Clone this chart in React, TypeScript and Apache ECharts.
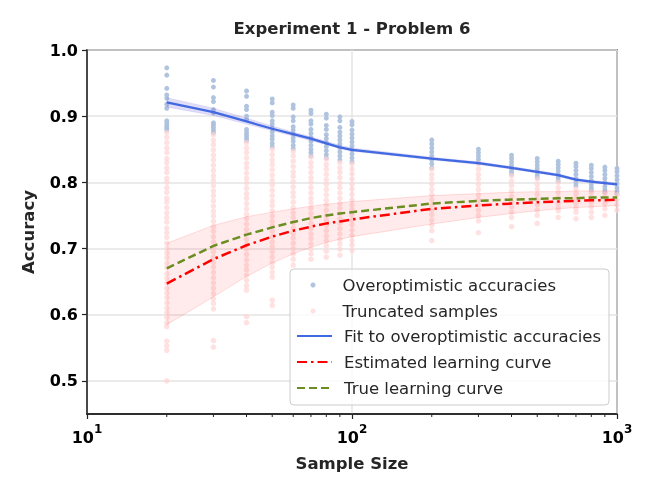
import React, { useEffect, useRef } from 'react';
import * as echarts from 'echarts';

const sampleSizes = [20, 30, 40, 50, 60, 70, 80, 90, 100, 200, 300, 400, 500, 600, 700, 800, 900, 1000];

const overoptimistic: number[][] = [
  [0.973, 0.962, 0.942, 0.932, 0.927, 0.918, 0.912, 0.893, 0.889, 0.885, 0.882, 0.879],
  [0.954, 0.944, 0.928, 0.922, 0.91, 0.905, 0.89, 0.887, 0.883, 0.879, 0.875],
  [0.938, 0.93, 0.915, 0.91, 0.9, 0.895, 0.88, 0.875, 0.871, 0.867, 0.863],
  [0.926, 0.92, 0.906, 0.901, 0.893, 0.888, 0.882, 0.876, 0.87, 0.865, 0.859, 0.854],
  [0.917, 0.912, 0.899, 0.893, 0.884, 0.879, 0.873, 0.867, 0.862, 0.856, 0.851],
  [0.909, 0.904, 0.893, 0.888, 0.88, 0.874, 0.868, 0.862, 0.856, 0.85, 0.845, 0.84],
  [0.903, 0.897, 0.886, 0.88, 0.872, 0.866, 0.86, 0.854, 0.848, 0.842, 0.837],
  [0.899, 0.893, 0.883, 0.876, 0.87, 0.864, 0.858, 0.852, 0.846, 0.84, 0.834],
  [0.892, 0.887, 0.879, 0.873, 0.867, 0.861, 0.855, 0.849, 0.843, 0.837, 0.831],
  [0.864, 0.858, 0.852, 0.846, 0.84, 0.834, 0.828, 0.822],
  [0.85, 0.845, 0.84, 0.835, 0.83],
  [0.841, 0.836, 0.831, 0.826, 0.821, 0.816, 0.812],
  [0.836, 0.831, 0.826, 0.821, 0.816, 0.811, 0.807],
  [0.832, 0.827, 0.822, 0.817, 0.812, 0.807, 0.802],
  [0.829, 0.824, 0.818, 0.812, 0.806, 0.8, 0.795],
  [0.826, 0.821, 0.815, 0.809, 0.803, 0.797, 0.792, 0.788],
  [0.823, 0.818, 0.812, 0.806, 0.8, 0.794, 0.789, 0.785],
  [0.821, 0.816, 0.81, 0.804, 0.798, 0.792, 0.787, 0.783],
];

const truncated: number[][] = [
  [0.875, 0.868, 0.86, 0.852, 0.845, 0.836, 0.83, 0.822, 0.815, 0.806, 0.8, 0.792, 0.785, 0.776, 0.77, 0.762, 0.754, 0.747, 0.74, 0.731, 0.724, 0.717, 0.708, 0.7, 0.693, 0.686, 0.678, 0.671, 0.662, 0.655, 0.648, 0.64, 0.633, 0.626, 0.618, 0.61, 0.603, 0.596, 0.588, 0.582, 0.56, 0.553, 0.546, 0.5],
  [0.872, 0.864, 0.857, 0.849, 0.841, 0.834, 0.826, 0.818, 0.81, 0.803, 0.795, 0.787, 0.78, 0.772, 0.764, 0.756, 0.749, 0.741, 0.733, 0.726, 0.718, 0.71, 0.702, 0.695, 0.687, 0.679, 0.672, 0.664, 0.656, 0.648, 0.64, 0.632, 0.624, 0.617, 0.609, 0.561, 0.551],
  [0.86, 0.852, 0.845, 0.837, 0.829, 0.822, 0.814, 0.806, 0.799, 0.791, 0.783, 0.776, 0.768, 0.76, 0.752, 0.745, 0.737, 0.729, 0.722, 0.714, 0.706, 0.699, 0.691, 0.683, 0.675, 0.668, 0.66, 0.652, 0.644, 0.637, 0.597, 0.588],
  [0.85, 0.842, 0.834, 0.827, 0.819, 0.811, 0.803, 0.796, 0.788, 0.78, 0.772, 0.765, 0.757, 0.749, 0.741, 0.734, 0.726, 0.718, 0.71, 0.703, 0.695, 0.687, 0.679, 0.672, 0.664, 0.657, 0.622, 0.614],
  [0.847, 0.84, 0.832, 0.824, 0.816, 0.809, 0.801, 0.793, 0.785, 0.778, 0.77, 0.762, 0.754, 0.747, 0.739, 0.731, 0.723, 0.716, 0.708, 0.7, 0.692, 0.684, 0.675],
  [0.838, 0.83, 0.823, 0.815, 0.807, 0.8, 0.792, 0.784, 0.776, 0.769, 0.761, 0.753, 0.746, 0.738, 0.73, 0.722, 0.715, 0.707, 0.699, 0.692, 0.684],
  [0.835, 0.827, 0.82, 0.812, 0.804, 0.797, 0.789, 0.781, 0.773, 0.766, 0.758, 0.75, 0.743, 0.735, 0.727, 0.719, 0.712, 0.704, 0.696, 0.687],
  [0.83, 0.822, 0.815, 0.807, 0.799, 0.792, 0.784, 0.776, 0.768, 0.761, 0.753, 0.745, 0.738, 0.73, 0.722, 0.714, 0.707, 0.699, 0.69],
  [0.828, 0.82, 0.813, 0.805, 0.797, 0.79, 0.782, 0.774, 0.766, 0.759, 0.751, 0.743, 0.736, 0.728, 0.72, 0.712, 0.705, 0.697],
  [0.82, 0.812, 0.805, 0.797, 0.789, 0.782, 0.774, 0.766, 0.758, 0.751, 0.743, 0.735, 0.727, 0.712],
  [0.828, 0.82, 0.812, 0.805, 0.797, 0.789, 0.781, 0.774, 0.766, 0.758, 0.75, 0.742, 0.724],
  [0.81, 0.802, 0.795, 0.787, 0.779, 0.771, 0.763, 0.755, 0.747, 0.733],
  [0.805, 0.797, 0.79, 0.782, 0.774, 0.766, 0.758, 0.75, 0.738],
  [0.8, 0.792, 0.785, 0.777, 0.769, 0.762, 0.757, 0.747],
  [0.79, 0.783, 0.776, 0.768, 0.761, 0.755, 0.745],
  [0.785, 0.778, 0.77, 0.763, 0.755, 0.747],
  [0.783, 0.776, 0.768, 0.76, 0.75],
  [0.781, 0.774, 0.766, 0.758],
];

const fitCurve = [0.921, 0.906, 0.892, 0.881, 0.873, 0.866, 0.859, 0.853, 0.849, 0.836, 0.829, 0.822, 0.816, 0.811, 0.804, 0.801, 0.799, 0.797];
const fitLower = [0.914, 0.901, 0.888, 0.878, 0.87, 0.863, 0.857, 0.851, 0.847, 0.834, 0.827, 0.82, 0.814, 0.809, 0.802, 0.799, 0.797, 0.795];
const fitUpper = [0.928, 0.912, 0.897, 0.885, 0.876, 0.869, 0.862, 0.856, 0.852, 0.838, 0.831, 0.824, 0.818, 0.813, 0.806, 0.803, 0.801, 0.799];

const estimatedCurve = [0.647, 0.684, 0.705, 0.718, 0.727, 0.733, 0.738, 0.741, 0.744, 0.76, 0.765, 0.768, 0.77, 0.771, 0.772, 0.773, 0.773, 0.774];
const estLower = [0.585, 0.627, 0.658, 0.678, 0.692, 0.702, 0.709, 0.714, 0.718, 0.737, 0.747, 0.753, 0.757, 0.76, 0.762, 0.763, 0.764, 0.765];
const estUpper = [0.708, 0.735, 0.748, 0.755, 0.76, 0.764, 0.767, 0.769, 0.771, 0.78, 0.783, 0.785, 0.786, 0.786, 0.787, 0.787, 0.787, 0.787];

const trueCurve = [0.67, 0.704, 0.721, 0.732, 0.74, 0.746, 0.75, 0.753, 0.755, 0.768, 0.772, 0.774, 0.775, 0.776, 0.776, 0.777, 0.777, 0.777];

const xTickBases = ['10', '10', '10'];
const xTickExponents = ['1', '2', '3'];
const xMinorTicks = [20, 30, 40, 50, 60, 70, 80, 90, 200, 300, 400, 500, 600, 700, 800, 900];
const yTicks = [0.5, 0.6, 0.7, 0.8, 0.9, 1.0];

const FONT = '"DejaVu Sans", sans-serif';

function bandSeries(name: string, lower: number[], upper: number[], fill: string, edge: string): any {
  return {
    name,
    type: 'custom',
    silent: true,
    clip: true,
    data: sampleSizes.map((n, i) => [n, lower[i], upper[i]]),
    encode: { x: 0, y: [1, 2] },
    renderItem: (params: any, api: any) => {
      if (params.dataIndex !== 0) return null;
      const lo = sampleSizes.map((n, i) => api.coord([n, lower[i]]));
      const up = sampleSizes.map((n, i) => api.coord([n, upper[i]]));
      const poly = up.concat(lo.slice().reverse());
      return {
        type: 'group',
        children: [
          { type: 'polygon', shape: { points: poly }, style: { fill } },
          { type: 'polyline', shape: { points: up }, style: { stroke: edge, lineWidth: 1, fill: 'none' } },
          { type: 'polyline', shape: { points: lo }, style: { stroke: edge, lineWidth: 1, fill: 'none' } },
        ],
      };
    },
    z: 3,
  };
}

export default function App() {
  const ref = useRef<HTMLDivElement>(null);

  useEffect(() => {
    if (!ref.current) return;
    const chart = echarts.init(ref.current, null, { renderer: 'svg' });

    const scatterPts = (lists: number[][]) =>
      lists.flatMap((l, i) => l.map((v) => [sampleSizes[i], v]));
    const pairs = (arr: number[]) => arr.map((v, i) => [sampleSizes[i], v]);

    const legendText = { fontFamily: FONT, fontSize: 16.5, lineHeight: 19, color: '#262626' };

    const option: any = {
      animation: false,
      grid: {
        left: 87,
        right: 36,
        top: 50,
        bottom: 80,
        show: true,
        borderColor: '#222',
        borderWidth: 1.5,
        backgroundColor: 'transparent',
      },
      graphic: [
        {
          type: 'text',
          x: 352,
          y: 28,
          style: {
            text: 'Experiment 1 - Problem 6',
            font: 'bold 16.5px "DejaVu Sans"',
            fill: '#262626',
            textAlign: 'center',
            textVerticalAlign: 'middle',
            align: 'center',
            verticalAlign: 'middle',
          },
        },
        {
          type: 'rect',
          z: 3,
          shape: { x: 290, y: 269, width: 319, height: 136, r: 4 },
          style: { fill: 'rgba(255,255,255,0.8)', stroke: '#cccccc', lineWidth: 1 },
        },
      ],
      legend: [
        {
          data: ['Overoptimistic accuracies', 'Truncated samples'],
          orient: 'vertical',
          left: 310.5,
          top: 275.5,
          padding: 0,
          itemWidth: 5,
          itemHeight: 5,
          itemGap: 7,
          selectedMode: false,
          z: 5,
          textStyle: { ...legendText, padding: [0, 0, 0, 22] },
        },
        {
          data: ['Fit to overoptimistic accuracies', 'Estimated learning curve', 'True learning curve'],
          orient: 'vertical',
          left: 296,
          top: 326.5,
          padding: 0,
          itemWidth: 35,
          itemHeight: 14,
          itemGap: 7,
          selectedMode: false,
          z: 5,
          itemStyle: { opacity: 0 },
          textStyle: { ...legendText, padding: [0, 0, 0, 7] },
        },
      ],
      xAxis: {
        type: 'log',
        logBase: 10,
        min: 10,
        max: 1000,
        name: 'Sample Size',
        nameLocation: 'middle',
        nameGap: 41,
        nameTextStyle: { fontFamily: FONT, fontSize: 16.5, fontWeight: 'bold', color: '#262626' },
        axisLine: { show: true, lineStyle: { color: '#222', width: 1.5 } },
        axisTick: { show: true, inside: false, length: 5, lineStyle: { color: '#222', width: 1.2 } },
        axisLabel: {
          margin: 9,
          color: '#000',
          formatter: (v: number) => {
            const idx = Math.round(Math.log10(v)) - 1;
            if (idx < 0 || idx >= xTickBases.length) return '';
            return `{b|${xTickBases[idx]}}{s|${xTickExponents[idx]}}`;
          },
          rich: {
            b: { fontFamily: FONT, fontSize: 16, fontWeight: 'bold', color: '#000', lineHeight: 22, verticalAlign: 'bottom' },
            s: { fontFamily: FONT, fontSize: 12, fontWeight: 'bold', color: '#000', lineHeight: 12, verticalAlign: 'top' },
          },
        },
        splitLine: { show: true, lineStyle: { color: '#e5e5e5', width: 1.5 } },
      },
      yAxis: {
        type: 'value',
        min: 0.45,
        max: 1.0,
        name: 'Accuracy',
        nameLocation: 'middle',
        nameGap: 50,
        nameTextStyle: { fontFamily: FONT, fontSize: 16.5, fontWeight: 'bold', color: '#262626' },
        axisLine: { show: true, lineStyle: { color: '#222', width: 1.5 } },
        axisTick: { show: true, inside: false, length: 5, customValues: yTicks, lineStyle: { color: '#222', width: 1.2 } },
        axisLabel: {
          margin: 9,
          customValues: yTicks,
          fontFamily: FONT,
          fontSize: 16,
          fontWeight: 'bold',
          color: '#000',
          formatter: (v: number) => v.toFixed(1),
        },
        splitLine: { show: true, lineStyle: { color: '#e5e5e5', width: 1.5 } },
      },
      series: [
        {
          name: 'Overoptimistic accuracies',
          type: 'scatter',
          symbol: 'circle',
          symbolSize: 5,
          data: scatterPts(overoptimistic),
          itemStyle: { color: '#adc1dd', opacity: 0.95 },
          z: 2,
        },
        {
          name: 'Truncated samples',
          type: 'scatter',
          symbol: 'circle',
          symbolSize: 5.5,
          data: scatterPts(truncated),
          itemStyle: { color: '#ffd4d4', opacity: 0.7 },
          z: 2,
        },
        bandSeries('fitBand', fitLower, fitUpper, 'rgba(95,85,215,0.2)', 'rgba(95,85,215,0.12)'),
        bandSeries('estBand', estLower, estUpper, 'rgba(255,0,0,0.08)', 'rgba(255,0,0,0.13)'),
        {
          name: 'Fit to overoptimistic accuracies',
          type: 'line',
          symbol: 'none',
          data: pairs(fitCurve),
          itemStyle: { color: '#4169e1' },
          lineStyle: { color: '#4169e1', width: 2.3 },
          z: 4,
        },
        {
          name: 'Estimated learning curve',
          type: 'line',
          symbol: 'none',
          data: pairs(estimatedCurve),
          itemStyle: { color: '#ff0000' },
          lineStyle: { color: '#ff0000', width: 2.5, type: [10, 4, 2.5, 4] },
          z: 4,
        },
        {
          name: 'True learning curve',
          type: 'line',
          symbol: 'none',
          data: pairs(trueCurve),
          itemStyle: { color: '#6b8e23' },
          lineStyle: { color: '#6b8e23', width: 2.5, type: [8, 4] },
          z: 4,
        },
        {
          name: 'minorTicks',
          type: 'custom',
          silent: true,
          clip: false,
          data: xMinorTicks.map((v) => [v, 0.45]),
          encode: { x: 0, y: 1 },
          renderItem: (_params: any, api: any) => {
            const p = api.coord([api.value(0), api.value(1)]);
            return {
              type: 'line',
              shape: { x1: p[0], y1: p[1], x2: p[0], y2: p[1] + 3 },
              style: { stroke: '#222', lineWidth: 1 },
            };
          },
          z: 6,
        },
      ],
    };

    chart.setOption(option);
    return () => chart.dispose();
  }, []);

  return <div ref={ref} style={{ position: 'fixed', left: 0, top: 0, width: 653, height: 494 }} />;
}
